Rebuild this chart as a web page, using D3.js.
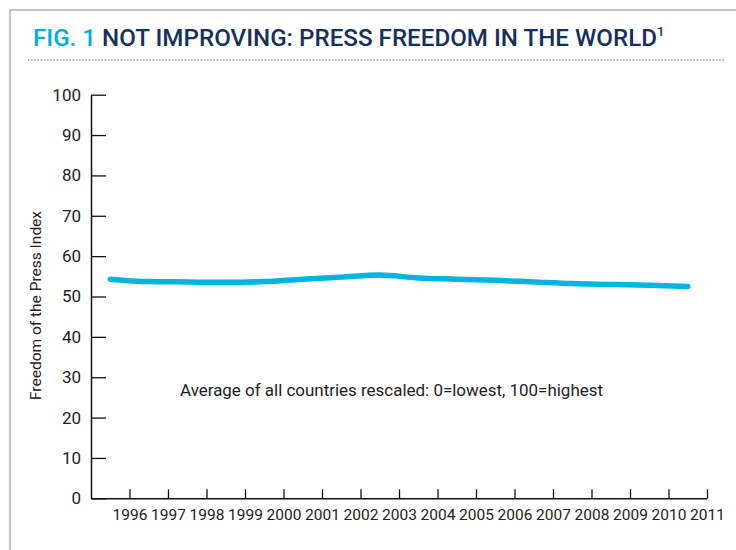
<!DOCTYPE html>
<html>
<head>
<meta charset="utf-8">
<script src="https://cdn.jsdelivr.net/npm/d3@7"></script>
<style>
  html, body { margin: 0; padding: 0; background: #fff; }
  svg { display: block; font-family: Roboto, "Noto Sans", sans-serif; }
</style>
</head>
<body>
<svg id="chart" width="736" height="550"></svg>
<script>
// Press freedom index, world average (0 = lowest, 100 = highest)
const years = [1996, 1997, 1998, 1999, 2000, 2001, 2002, 2003,
               2004, 2005, 2006, 2007, 2008, 2009, 2010, 2011];
const freedomIndex = [54.3, 53.7, 53.6, 53.5, 53.7, 54.3, 54.8, 55.3,
                      54.6, 54.3, 54.0, 53.6, 53.2, 53.0, 52.8, 52.5];
const yTicks = [0, 10, 20, 30, 40, 50, 60, 70, 80, 90, 100];

const titleLead = "FIG. 1";
const titleMain = "NOT IMPROVING: PRESS FREEDOM IN THE WORLD";
const yTitle = "Freedom of the Press Index";
const note = "Average of all countries rescaled: 0=lowest, 100=highest";

const svg = d3.select("#chart");

// Frame of the figure panel
svg.append("path")
  .attr("d", "M10,550V10H736")
  .attr("fill", "none")
  .attr("stroke", "#b0b0b0")
  .attr("stroke-width", 1.5);

// Title
const title = svg.append("text")
  .attr("x", 33).attr("y", 46)
  .attr("font-size", 24)
  .attr("font-weight", 500);
title.append("tspan").attr("fill", "#00aee0").text(titleLead + " ");
title.append("tspan").attr("fill", "#15305c").text(titleMain);
title.append("tspan").attr("fill", "#15305c")
  .attr("font-size", 13).attr("dy", -10).text("1");
// condensed look: squeeze the title to its column width
const tw = title.node().getComputedTextLength();
const targetW = 632;
title.attr("transform", `translate(33,0) scale(${targetW / tw},1) translate(-33,0)`);

// Dotted rule under the title
svg.append("line")
  .attr("x1", 28).attr("x2", 724).attr("y1", 60).attr("y2", 60)
  .attr("stroke", "#8a8a8a")
  .attr("stroke-width", 1.6)
  .attr("stroke-dasharray", "1.4,1.8");

// Scales
const x = d3.scaleLinear().domain([1995, 2011]).range([91, 707]);
const y = d3.scaleLinear().domain([0, 100]).range([498.3, 94.7]);

// Y axis: ticks pointing into the plot, labels on the left
const yAxis = svg.append("g")
  .attr("transform", `translate(${x(1995)},0)`)
  .call(d3.axisLeft(y).tickValues(yTicks).tickSize(-15).tickSizeOuter(0).tickPadding(10));
yAxis.selectAll("text").attr("font-size", 17).attr("fill", "#222")
  .attr("font-family", "Roboto, sans-serif");

// X axis: ticks upward, year labels beneath
const xAxis = svg.append("g")
  .attr("transform", `translate(0,${y(0)})`)
  .call(d3.axisBottom(x).tickValues(years).tickFormat(d3.format("d"))
    .tickSize(-9).tickSizeOuter(0).tickPadding(11));
xAxis.selectAll("text").attr("font-size", 15.5).attr("fill", "#222")
  .attr("font-family", "Roboto, sans-serif");

[yAxis, xAxis].forEach(g => {
  g.selectAll("line").attr("stroke", "#111").attr("stroke-width", 1.3);
  g.select(".domain").attr("stroke", "#111").attr("stroke-width", 1.5);
});

// Y axis title
svg.append("text")
  .attr("transform", "translate(41,305.5) rotate(-90)")
  .attr("text-anchor", "middle")
  .attr("font-size", 15.5)
  .attr("fill", "#222")
  .text(yTitle);

// Series line: each year's value sits mid-way through its interval
const line = d3.line()
  .x((d, i) => x(years[i] - 0.5))
  .y(d => y(d))
  .curve(d3.curveMonotoneX);

svg.append("path")
  .datum(freedomIndex)
  .attr("d", line)
  .attr("fill", "none")
  .attr("stroke", "#00b5e0")
  .attr("stroke-width", 5.5)
  .attr("stroke-linecap", "round")
  .attr("stroke-linejoin", "round");

// Note
svg.append("text")
  .attr("x", 180).attr("y", 396)
  .attr("font-size", 16.5)
  .attr("fill", "#222")
  .attr("textLength", 423)
  .attr("lengthAdjust", "spacingAndGlyphs")
  .text(note);
</script>
</body>
</html>
